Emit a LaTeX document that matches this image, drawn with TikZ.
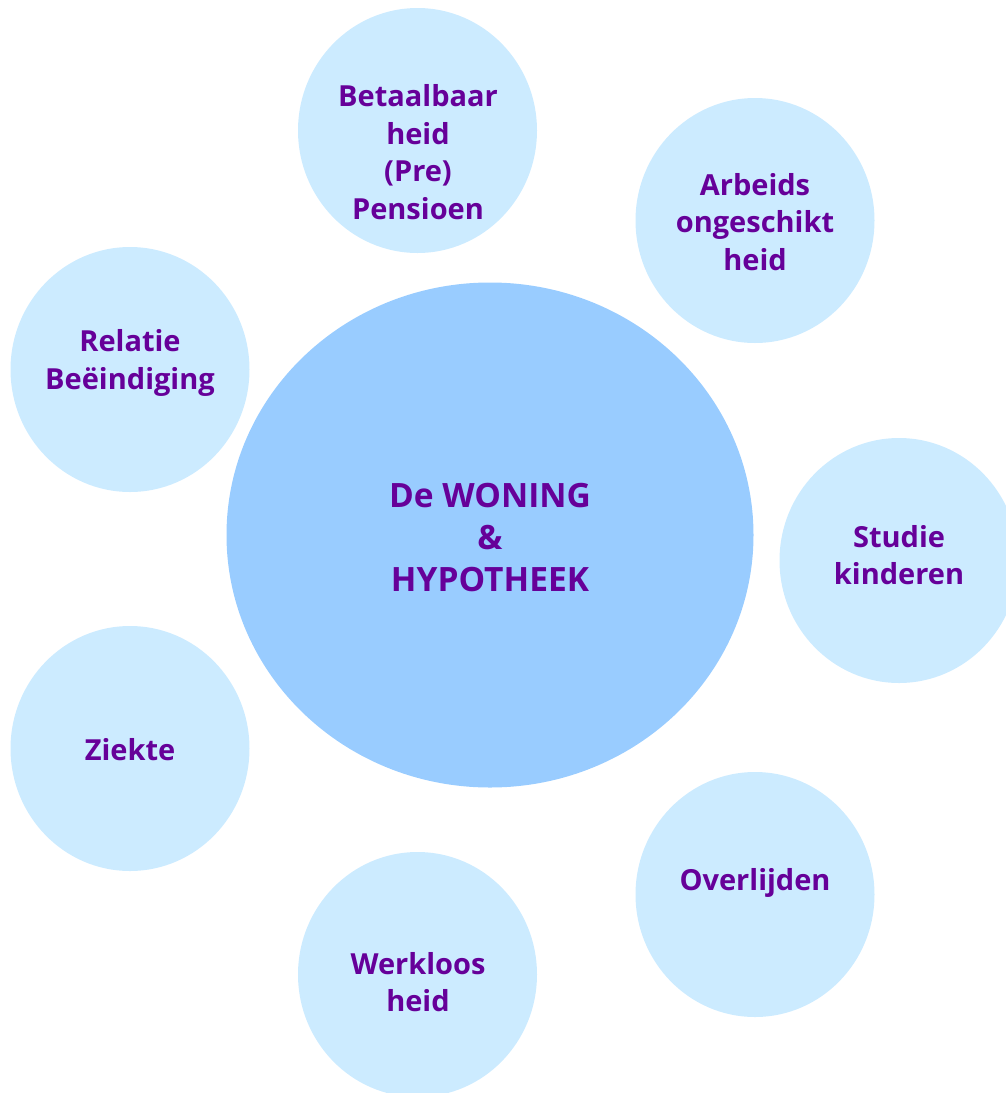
\documentclass[tikz,border=0pt]{standalone}
\usepackage{fontspec}
\setmainfont{Open Sans}
\usetikzlibrary{shapes.geometric}
\definecolor{smallfill}{RGB}{204,235,255}
\definecolor{bigfill}{RGB}{153,204,255}
\definecolor{txt}{RGB}{102,0,153}
\begin{document}
\begin{tikzpicture}[x=1pt,y=-1pt,
  smallc/.style={ellipse,fill=smallfill,draw=none,minimum width=239pt,minimum height=245pt,inner sep=0pt},
  bigc/.style={ellipse,fill=bigfill,draw=none,minimum width=527pt,minimum height=505pt,inner sep=0pt},
  lbl/.style={text=txt,align=center,inner sep=0pt,font=\fontsize{29}{37.5}\selectfont\bfseries},
  biglbl/.style={text=txt,align=center,inner sep=0pt,font=\fontsize{33.5}{42}\selectfont\bfseries}]
\useasboundingbox (0,0) rectangle (1006,1093);
\node[bigc] (center) at (490,535) {};
\node[smallc] (c1) at (417.5,130.5) {};
\node[smallc] (c2) at (755,220.5) {};
\node[smallc] (c3) at (899,560.5) {};
\node[smallc] (c4) at (755,894.5) {};
\node[smallc] (c5) at (417.5,974.5) {};
\node[smallc] (c6) at (130,748.5) {};
\node[smallc] (c7) at (130,369.5) {};
\node[biglbl] (t0) at (490,538) {De WONING\\\&\\HYPOTHEEK};
\node[lbl] (t1) at (418,152) {Betaalbaar\\heid\\(Pre)\\Pensioen};
\node[lbl] (t2) at (755,222) {Arbeids\\ongeschikt\\heid};
\node[lbl] (t3) at (899,555) {Studie\\kinderen};
\node[lbl] (t4) at (755,883) {Overlijden};
\node[lbl] (t5) at (418,982) {Werkloos\\heid};
\node[lbl] (t6) at (130,750) {Ziekte};
\node[lbl] (t7) at (130,363) {Relatie\\Beëindiging};
\end{tikzpicture}
\end{document}
